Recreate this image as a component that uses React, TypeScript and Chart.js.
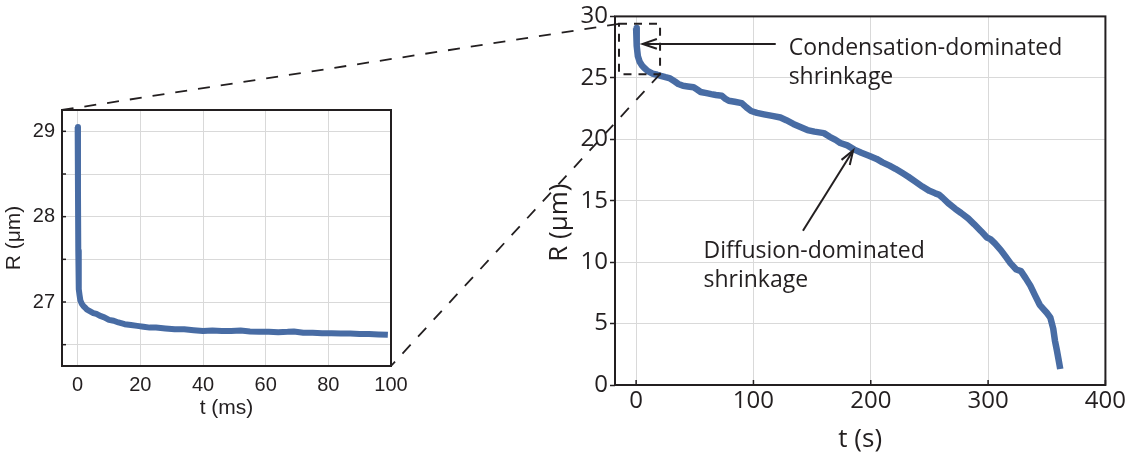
import React, { useEffect, useRef } from 'react';
import { Chart, registerables } from 'chart.js';

Chart.register(...registerables);

// ---------- Data ----------
// Inset (left): first 100 ms
const insetTimeMs = [0, 0.1, 0.2, 0.3, 0.4, 0.6, 0.85, 1.3, 1.9, 2.5, 3, 4, 5, 6, 7, 8.5, 10, 11.5, 13, 15, 17, 19, 21, 23, 25, 28, 31, 34, 37, 40, 43, 46, 49, 52, 55, 58, 61, 64, 67, 69, 72, 75, 78, 81, 84, 87, 90, 93, 96, 99];
const insetRadiusUm = [29.05, 28.3, 27.6, 27.3, 27.15, 27.08, 27.02, 26.98, 26.95, 26.93, 26.91, 26.89, 26.87, 26.86, 26.84, 26.82, 26.79, 26.78, 26.76, 26.74, 26.73, 26.72, 26.71, 26.7, 26.7, 26.69, 26.68, 26.68, 26.67, 26.66, 26.665, 26.66, 26.66, 26.665, 26.655, 26.65, 26.65, 26.645, 26.65, 26.655, 26.64, 26.64, 26.635, 26.635, 26.63, 26.63, 26.625, 26.625, 26.62, 26.615];

// Main (right): full evaporation in seconds
const mainTimeS = [0, 0.5, 1.5, 3, 5, 7, 10, 14, 18, 21, 25, 29, 33, 36, 40, 44, 49, 52, 55, 60, 64, 68, 73, 76, 79, 84, 90, 94, 98, 103, 109, 116, 123, 128, 134, 140, 146, 152, 160, 165, 170, 174, 180, 186, 192, 199, 205, 210, 216, 221, 227, 232, 238, 244, 250, 255, 258, 261, 266, 272, 277, 283, 288, 294, 299, 302, 306, 311, 315, 319, 324, 328, 332, 336, 340, 344, 347, 350, 353, 355.5, 357, 358.5, 360, 361.5];
const mainRadiusUm = [29.05, 27.6, 26.75, 26.3, 26.0, 25.8, 25.55, 25.35, 25.25, 25.16, 25.05, 24.95, 24.7, 24.5, 24.35, 24.3, 24.24, 24.05, 23.85, 23.75, 23.67, 23.6, 23.54, 23.3, 23.13, 23.05, 22.94, 22.6, 22.3, 22.15, 22.03, 21.9, 21.77, 21.55, 21.25, 21.0, 20.75, 20.62, 20.5, 20.2, 19.95, 19.7, 19.5, 19.16, 18.9, 18.64, 18.4, 18.12, 17.85, 17.6, 17.25, 16.95, 16.55, 16.15, 15.8, 15.6, 15.5, 15.26, 14.8, 14.34, 14.0, 13.56, 13.1, 12.52, 12.0, 11.87, 11.5, 10.96, 10.45, 9.92, 9.4, 9.27, 8.7, 8.09, 7.3, 6.53, 6.2, 5.88, 5.5, 4.6, 3.6, 2.89, 2.1, 1.3];

// Tick values
const insetXTicks = [0, 20, 40, 60, 80, 100];
const insetYTicks = [26.5, 27, 27.5, 28, 28.5, 29];
const insetYLabels = ['', '27', '', '28', '', '29'];
const mainXTicks = [0, 100, 200, 300, 400];
const mainYTicks = [0, 5, 10, 15, 20, 25, 30];

// Zoom window (data units of the main chart) shown by the dashed box
const zoomBoxT = [-14.6, 20.4];
const zoomBoxR = [25.3, 29.4];

// Annotations (data units of main chart)
const condensationLines = ['Condensation-dominated', 'shrinkage'];
const condensationText = [130, 26.84];
const condensationArrow = [119, 27.76, 5.6, 27.76]; // tail t, tail R, tip t, tip R
const diffusionLines = ['Diffusion-dominated', 'shrinkage'];
const diffusionText = [57.4, 10.36];
const diffusionArrow = [142.2, 12.56, 185, 19.09];

// ---------- Styles ----------
const INK = '#231f20';
const GRID = '#d9d9d9';
const BLUE = '#486ca4';
const ARIAL = '"Liberation Sans", Arial, sans-serif';
const MYRIAD = '"Open Sans", "Noto Sans", sans-serif';

function drawArrow(ctx: CanvasRenderingContext2D, x1: number, y1: number, x2: number, y2: number) {
  ctx.beginPath();
  ctx.moveTo(x1, y1);
  ctx.lineTo(x2, y2);
  ctx.stroke();
  const ang = Math.atan2(y2 - y1, x2 - x1);
  const len = 15;
  const spread = 0.33;
  ctx.beginPath();
  ctx.moveTo(x2 - len * Math.cos(ang - spread), y2 - len * Math.sin(ang - spread));
  ctx.lineTo(x2, y2);
  ctx.lineTo(x2 - len * Math.cos(ang + spread), y2 - len * Math.sin(ang + spread));
  ctx.stroke();
}

const insetFrame = {
  id: 'insetFrame',
  afterDraw(chart: any) {
    const { ctx, chartArea: a, scales } = chart;
    ctx.save();
    ctx.strokeStyle = INK;
    ctx.lineWidth = 1.5;
    for (const v of insetYTicks) {
      const py = scales.y.getPixelForValue(v);
      ctx.beginPath();
      ctx.moveTo(a.left, py);
      ctx.lineTo(a.left + 4, py);
      ctx.stroke();
    }
    ctx.lineWidth = 2;
    ctx.strokeRect(a.left, a.top, a.right - a.left, a.bottom - a.top);
    ctx.restore();
  },
};

function makeMainOverlay(getInset: () => any) {
  return {
    id: 'mainOverlay',
    afterDraw(chart: any) {
      const { ctx, chartArea: a, scales } = chart;
      const xs = scales.x;
      const ys = scales.y;
      ctx.save();
      // inner x ticks
      ctx.strokeStyle = INK;
      ctx.lineWidth = 1.5;
      for (const v of mainXTicks) {
        const px = xs.getPixelForValue(v);
        ctx.beginPath();
        ctx.moveTo(px, a.bottom);
        ctx.lineTo(px, a.bottom - 5);
        ctx.stroke();
      }
      // frame
      ctx.lineWidth = 2;
      ctx.strokeRect(a.left, a.top, a.right - a.left, a.bottom - a.top);

      // y title
      ctx.save();
      ctx.fillStyle = INK;
      ctx.font = `26px ${MYRIAD}`;
      ctx.textAlign = 'center';
      ctx.textBaseline = 'middle';
      ctx.translate(a.left - 55, (a.top + a.bottom) / 2 + 22);
      ctx.rotate(-Math.PI / 2);
      ctx.fillText('R (μm)', 0, 0);
      ctx.restore();

      // zoom box
      const bx1 = xs.getPixelForValue(zoomBoxT[0]);
      const bx2 = xs.getPixelForValue(zoomBoxT[1]);
      const by1 = ys.getPixelForValue(zoomBoxR[1]);
      const by2 = ys.getPixelForValue(zoomBoxR[0]);
      ctx.setLineDash([8, 7]);
      ctx.lineWidth = 2;
      ctx.strokeRect(bx1, by1, bx2 - bx1, by2 - by1);

      // connectors to inset
      const inset = getInset();
      if (inset && inset.chartArea) {
        const ia = inset.chartArea;
        ctx.setLineDash([12, 11]);
        ctx.lineWidth = 1.8;
        ctx.beginPath();
        ctx.moveTo(bx1, by1);
        ctx.lineTo(ia.left, ia.top);
        ctx.stroke();
        ctx.beginPath();
        ctx.moveTo(bx2, by2);
        ctx.lineTo(ia.right, ia.bottom);
        ctx.stroke();
      }
      ctx.setLineDash([]);

      // arrows
      ctx.lineWidth = 2;
      drawArrow(ctx,
        xs.getPixelForValue(condensationArrow[0]), ys.getPixelForValue(condensationArrow[1]),
        xs.getPixelForValue(condensationArrow[2]), ys.getPixelForValue(condensationArrow[3]));
      drawArrow(ctx,
        xs.getPixelForValue(diffusionArrow[0]), ys.getPixelForValue(diffusionArrow[1]),
        xs.getPixelForValue(diffusionArrow[2]), ys.getPixelForValue(diffusionArrow[3]));

      // texts
      ctx.fillStyle = INK;
      ctx.font = `23px ${MYRIAD}`;
      ctx.textAlign = 'left';
      ctx.textBaseline = 'alphabetic';
      const cx = xs.getPixelForValue(condensationText[0]);
      const cy = ys.getPixelForValue(condensationText[1]);
      condensationLines.forEach((s, i) => ctx.fillText(s, cx, cy + i * 29));
      const dx = xs.getPixelForValue(diffusionText[0]);
      const dy = ys.getPixelForValue(diffusionText[1]);
      diffusionLines.forEach((s, i) => ctx.fillText(s, dx, dy + i * 29));
      ctx.restore();
    },
  };
}

export default function App() {
  const mainRef = useRef<HTMLCanvasElement>(null);
  const insetRef = useRef<HTMLCanvasElement>(null);

  useEffect(() => {
    if (!mainRef.current || !insetRef.current) return;

    const inset = new Chart(insetRef.current, {
      type: 'line',
      data: {
        datasets: [{
          data: insetTimeMs.map((t, i) => ({ x: t, y: insetRadiusUm[i] })),
          borderColor: BLUE,
          borderWidth: 6,
          pointRadius: 0,
          tension: 0,
          borderJoinStyle: 'round',
          borderCapStyle: 'butt',
        }],
      },
      options: {
        responsive: false,
        animation: false,
        devicePixelRatio: 1,
        layout: { padding: { top: 110, right: 29, left: 0, bottom: 0 } },
        plugins: { legend: { display: false }, tooltip: { enabled: false } },
        scales: {
          x: {
            type: 'linear', min: -5, max: 100,
            afterFit: (s: any) => { s.height = 86; },
            afterBuildTicks: (s: any) => { s.ticks = insetXTicks.map((v) => ({ value: v })); },
            ticks: { maxRotation: 0, color: INK, padding: 7, font: { family: ARIAL, size: 20 } },
            grid: { color: GRID, drawTicks: false, lineWidth: 1 },
            border: { display: false },
            title: { display: true, text: 't (ms)', color: INK, font: { family: ARIAL, size: 21 }, padding: { top: 0, bottom: 31 } },
          },
          y: {
            type: 'linear', min: 26.25, max: 29.25,
            afterFit: (s: any) => { s.width = 62; },
            afterBuildTicks: (s: any) => { s.ticks = insetYTicks.map((v) => ({ value: v })); },
            ticks: {
              autoSkip: false, color: INK, padding: 7, font: { family: ARIAL, size: 20 },
              callback: (_v: any, i: number) => insetYLabels[i],
            },
            grid: { color: GRID, drawTicks: false, lineWidth: 1 },
            border: { display: false },
            title: { display: true, text: 'R (μm)', color: INK, font: { family: ARIAL, size: 21 }, padding: { top: 2, bottom: 0 } },
          },
        },
      },
      plugins: [insetFrame],
    } as any);

    const main = new Chart(mainRef.current, {
      type: 'line',
      data: {
        datasets: [{
          data: mainTimeS.map((t, i) => ({ x: t, y: mainRadiusUm[i] })),
          borderColor: BLUE,
          borderWidth: 6.5,
          pointRadius: 0,
          tension: 0,
          borderJoinStyle: 'round',
          borderCapStyle: 'butt',
        }],
      },
      options: {
        responsive: false,
        animation: false,
        devicePixelRatio: 1,
        layout: { padding: { top: 7, right: 20, left: 540, bottom: 0 } },
        plugins: { legend: { display: false }, tooltip: { enabled: false } },
        scales: {
          x: {
            type: 'linear', min: -18, max: 400,
            afterFit: (s: any) => { s.height = 67; },
            afterBuildTicks: (s: any) => { s.ticks = mainXTicks.map((v) => ({ value: v })); },
            ticks: { maxRotation: 0, color: INK, padding: 2, font: { family: MYRIAD, size: 24 } },
            grid: { color: GRID, drawTicks: false, lineWidth: 1 },
            border: { display: false },
            title: { display: true, text: 't (s)', color: INK, font: { family: MYRIAD, size: 26, lineHeight: 1 }, padding: { top: 0, bottom: -1 } },
          },
          y: {
            type: 'linear', min: 0, max: 30,
            afterFit: (s: any) => { s.width = 75; },
            afterBuildTicks: (s: any) => { s.ticks = mainYTicks.map((v) => ({ value: v })); },
            ticks: { color: INK, padding: 2, font: { family: MYRIAD, size: 24 } },
            grid: { color: GRID, drawTicks: true, tickLength: 5, tickColor: INK, tickWidth: 1.5, lineWidth: 1 },
            border: { display: false },
            title: { display: false },
          },
        },
      },
      plugins: [makeMainOverlay(() => inset)],
    } as any);

    return () => {
      main.destroy();
      inset.destroy();
    };
  }, []);

  return (
    <div style={{ position: 'fixed', left: 0, top: 0, width: 1128, height: 452, background: '#ffffff', overflow: 'hidden' }}>
      <canvas ref={mainRef} width={1128} height={452} style={{ position: 'absolute', left: 0, top: 0, width: 1128, height: 452 }} />
      <canvas ref={insetRef} width={420} height={452} style={{ position: 'absolute', left: 0, top: 0, width: 420, height: 452 }} />
    </div>
  );
}
